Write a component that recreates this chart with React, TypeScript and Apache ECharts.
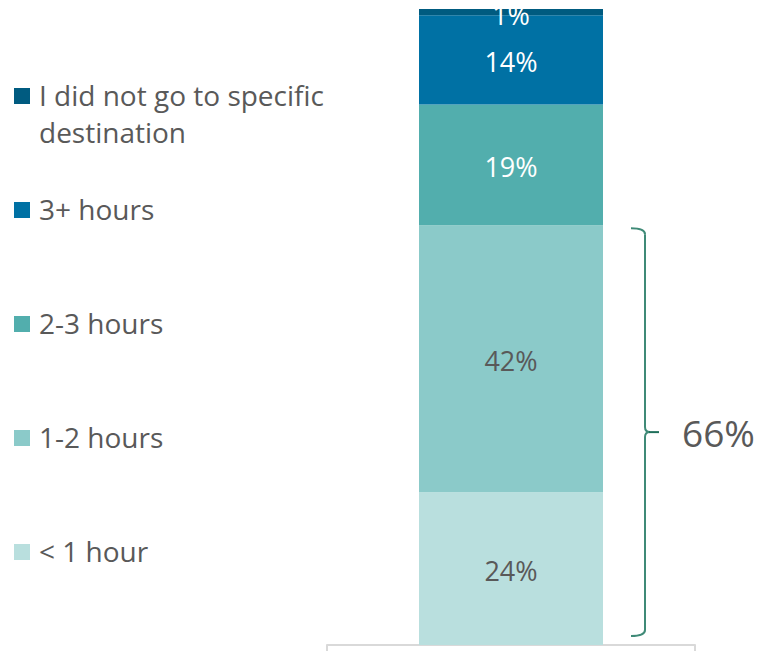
import React, { useEffect, useRef } from "react";
import * as echarts from "echarts";

const categories = ["All"];
const seriesNames = ["< 1 hour", "1-2 hours", "2-3 hours", "3+ hours", "I did not go to specific destination"];
const legendTexts = ["< 1 hour", "1-2 hours", "2-3 hours", "3+ hours", "I did not go to specific\ndestination"];
const seriesValues = [[24], [42], [19], [14], [1]];
const seriesColors = ["#B9DFDE", "#8BCAC9", "#52AEAD", "#0071A4", "#005B80"];
const labelColors = ["#595959", "#595959", "#FFFFFF", "#FFFFFF", "#FFFFFF"];
const braceLabel = "66%";
const braceFrom = 0;
const braceTo = 66;

const FONT = "'Open Sans', 'Noto Sans', sans-serif";

export default function App() {
  const ref = useRef<HTMLDivElement>(null);
  useEffect(() => {
    if (!ref.current) return;
    const chart = echarts.init(ref.current, null, { renderer: "svg" });
    const option: any = {
      animation: false,
      grid: { left: 327, right: 65, top: 9, bottom: 7 },
      xAxis: {
        type: "category",
        data: categories,
        axisLine: { show: true, lineStyle: { color: "#D9D9D9", width: 2 } },
        axisTick: { show: true, length: 6, lineStyle: { color: "#D9D9D9", width: 2 } },
        axisLabel: { show: false },
      },
      yAxis: { type: "value", min: 0, max: 100, show: false, splitLine: { show: false } },
      series: seriesNames.map((name, i) => ({
        name,
        type: "bar",
        stack: "total",
        barWidth: "50%",
        data: seriesValues[i],
        itemStyle: { color: seriesColors[i] },
        label: {
          show: true,
          position: "inside",
          formatter: "{c}%",
          color: labelColors[i],
          fontFamily: FONT,
          fontSize: 27,
          offset: [0, 2],
        },
      })),
    };
    chart.setOption(option);

    const legendGraphics: any[] = [];
    const order = [4, 3, 2, 1, 0];
    order.forEach((si, idx) => {
      const cy = 96 + idx * 114;
      legendGraphics.push({
        type: "rect",
        shape: { x: 14, y: cy - 8, width: 16, height: 16 },
        style: { fill: seriesColors[si] },
      });
      legendGraphics.push({
        type: "text",
        x: 39,
        y: cy - 20,
        style: {
          text: legendTexts[si],
          font: `28px ${FONT}`,
          fill: "#595959",
          verticalAlign: "top",
          lineHeight: 37,
        },
      });
    });

    const pTop = chart.convertToPixel({ gridIndex: 0 }, [0, braceTo]) as number[];
    const pBot = chart.convertToPixel({ gridIndex: 0 }, [0, braceFrom]) as number[];
    const yT = pTop[1] + 3;
    const yB = pBot[1] - 9;
    const yM = (yT + yB) / 2;
    const bx = 645;
    const c = "#3F8A77";
    const lw = 2;
    const brace: any[] = [
      { type: "bezierCurve", shape: { x1: bx - 14, y1: yT, x2: bx, y2: yT + 6, cpx1: bx, cpy1: yT }, style: { stroke: c, lineWidth: lw, fill: "none" } },
      { type: "line", shape: { x1: bx, y1: yT + 6, x2: bx, y2: yM - 5 }, style: { stroke: c, lineWidth: lw } },
      { type: "bezierCurve", shape: { x1: bx, y1: yM - 5, x2: bx + 5, y2: yM, cpx1: bx, cpy1: yM }, style: { stroke: c, lineWidth: lw, fill: "none" } },
      { type: "bezierCurve", shape: { x1: bx + 5, y1: yM, x2: bx, y2: yM + 5, cpx1: bx, cpy1: yM }, style: { stroke: c, lineWidth: lw, fill: "none" } },
      { type: "line", shape: { x1: bx + 4, y1: yM, x2: bx + 14, y2: yM }, style: { stroke: "#1F6F5A", lineWidth: lw } },
      { type: "line", shape: { x1: bx, y1: yM + 5, x2: bx, y2: yB - 6 }, style: { stroke: c, lineWidth: lw } },
      { type: "bezierCurve", shape: { x1: bx, y1: yB - 6, x2: bx - 14, y2: yB, cpx1: bx, cpy1: yB }, style: { stroke: c, lineWidth: lw, fill: "none" } },
      {
        type: "text",
        x: 682,
        y: yM,
        style: { text: braceLabel, font: `37px ${FONT}`, fill: "#595959", verticalAlign: "middle" },
      },
    ];

    chart.setOption({ graphic: [...legendGraphics, ...brace] });
    return () => chart.dispose();
  }, []);
  return <div ref={ref} style={{ width: 760, height: 652, position: "absolute", left: 0, top: 0 }} />;
}
